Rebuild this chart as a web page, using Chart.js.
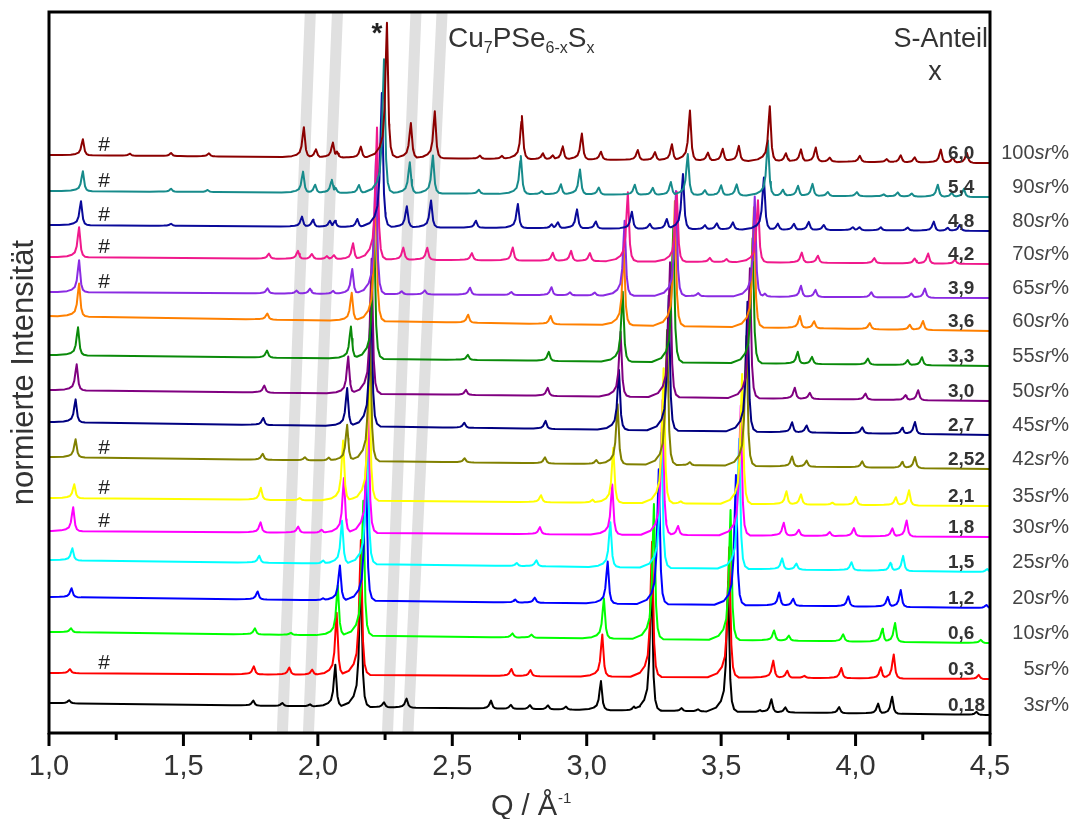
<!DOCTYPE html>
<html><head><meta charset="utf-8">
<script src="https://cdn.jsdelivr.net/npm/chart.js@4.4.1/dist/chart.umd.min.js"></script>
<style>html,body{margin:0;padding:0;background:#fff;}canvas{display:block;}</style>
</head><body>
<canvas id="c" width="1071" height="819"></canvas>
<script>
// ---------------- DATA ----------------
const xTicks = [1.0, 1.5, 2.0, 2.5, 3.0, 3.5, 4.0, 4.5];
const xMinorTicks = [1.25, 1.75, 2.25, 2.75, 3.25, 3.75, 4.25];
// series listed top to bottom
const sulfurX   = ['6,0','5,4','4,8','4,2','3,9','3,6','3,3','3,0','2,7','2,52','2,1','1,8','1,5','1,2','0,6','0,3','0,18'];
const sulfurPct = ['100','90','80','70','65','60','55','50','45','42','35','30','25','20','10','5','3'];
// vertical offset of each pattern at Q = 1.0 and Q = 4.5
const baseLeft  = [578,542,508,476,441,417,378,343,311,276,235,202,173,136,101,60,30];
const baseRight = [570,536,502,469,435,402,367,332,298,264,227,196,161,125,90,54,18];
const hashMarked = ['6,0','5,4','4,8','4,2','3,9','2,52','2,1','1,8','0,3'];
// grey guide bands: Q at bottom and at top of the plot
const bandBottomQ = [1.868, 1.965, 2.259, 2.335];
const bandTopQ    = [1.972, 2.073, 2.365, 2.462];

// peaks [Q, height]
const peaks_6_0 = [[1.126,16],[1.301,2],[1.454,3],[1.595,3],[1.948,30],[1.993,8],[2.056,15],[2.071,6],[2.160,11],[2.257,135],[2.346,35],[2.435,47],[2.603,3],[2.685,3],[2.759,43],[2.837,6],[2.874,4],[2.911,13],[2.982,26],[3.053,8],[3.190,10],[3.254,8],[3.317,16],[3.384,50],[3.451,8],[3.506,12],[3.566,15],[3.681,55],[3.741,8],[3.797,12],[3.852,14],[3.904,4],[4.016,6],[4.116,3],[4.168,7],[4.220,5],[4.317,13],[4.362,5],[4.414,10]];
const peaks_5_4 = [[1.126,20],[1.454,3],[1.590,2],[1.945,21],[1.990,8],[2.052,13],[2.066,5],[2.153,8],[2.246,134],[2.342,31],[2.428,38],[2.599,4],[2.755,38],[2.833,3],[2.904,10],[2.975,25],[3.045,7],[3.179,10],[3.246,7],[3.313,13],[3.376,41],[3.440,5],[3.500,10],[3.558,11],[3.674,55],[3.730,6],[3.786,10],[3.840,12],[3.897,4],[4.005,4],[4.105,2],[4.157,4],[4.209,3],[4.306,12],[4.358,4],[4.403,8]];
const peaks_4_8 = [[1.119,24],[1.454,2],[1.941,10],[1.982,7],[2.045,6],[2.064,6],[2.147,8],[2.238,134],[2.331,21],[2.421,27],[2.588,7],[2.744,24],[2.870,4],[2.893,6],[2.964,19],[3.034,7],[3.168,17],[3.235,5],[3.298,10],[3.358,55],[3.440,4],[3.484,6],[3.544,7],[3.659,52],[3.711,6],[3.771,6],[3.826,8],[3.882,5],[3.990,3],[4.015,3],[4.094,3],[4.194,3],[4.291,9],[4.343,3],[4.388,6]];
const peaks_4_2 = [[1.112,30],[1.818,5],[1.926,8],[1.978,5],[2.034,3],[2.060,4],[2.131,16],[2.220,132],[2.318,12],[2.407,12],[2.573,7],[2.725,13],[2.874,8],[2.942,10],[3.012,8],[3.153,69],[3.335,70],[3.458,4],[3.520,3],[3.637,62],[3.800,10],[3.860,7],[4.070,5],[4.220,5],[4.270,10],[4.370,4]];
const peaks_3_9 = [[1.112,32],[1.813,5],[1.921,3],[1.971,5],[2.057,3],[2.128,25],[2.216,135],[2.312,3],[2.398,4],[2.566,7],[2.720,3],[2.869,8],[2.938,3],[3.030,3],[3.141,75],[3.332,105],[3.415,3],[3.625,100],[3.663,3],[3.797,11],[3.851,7],[4.059,5],[4.208,4],[4.258,9]];
const peaks_3_6 = [[1.112,33],[1.812,6],[2.126,28],[2.215,135],[2.559,8],[2.866,8],[3.138,75],[3.328,125],[3.622,120],[3.793,12],[3.846,7],[4.053,6],[4.202,5],[4.251,9]];
const peaks_3_3 = [[1.108,28],[1.811,7],[2.123,32],[2.209,135],[2.558,5],[2.859,9],[3.134,70],[3.322,135],[3.617,125],[3.785,12],[3.838,7],[4.046,6],[4.194,5],[4.247,8]];
const peaks_3_0 = [[1.103,26],[1.801,7],[2.113,37],[2.200,135],[2.551,5],[2.855,8],[3.126,65],[3.310,135],[3.607,130],[3.774,11],[3.830,6],[4.037,6],[4.186,5],[4.233,10]];
const peaks_2_7 = [[1.099,23],[1.797,7],[2.109,38],[2.198,135],[2.545,5],[2.847,8],[3.120,60],[3.305,135],[3.598,130],[3.764,10],[3.818,7],[4.025,6],[4.174,6],[4.221,12]];
const peaks_2_52 = [[1.099,18],[1.795,6],[1.952,3],[2.041,3],[2.109,36],[2.194,135],[2.546,4],[2.845,6],[3.036,4],[3.115,60],[3.299,135],[3.384,3],[3.594,130],[3.764,10],[3.818,6],[4.025,6],[4.174,6],[4.221,11]];
const peaks_2_1 = [[1.094,14],[1.788,12],[1.933,2],[2.094,60],[2.191,135],[2.830,7],[3.022,3],[3.099,55],[3.286,135],[3.350,2],[3.578,130],[3.743,13],[3.797,10],[3.914,2],[4.001,8],[4.150,8],[4.199,15]];
const peaks_1_8 = [[1.090,24],[1.787,10],[1.927,6],[2.014,3],[2.097,55],[2.187,135],[2.826,7],[3.095,50],[3.282,135],[3.340,9],[3.573,130],[3.733,13],[3.789,6],[3.904,4],[3.994,8],[4.137,8],[4.190,16]];
const peaks_1_5 = [[1.087,12],[1.782,7],[2.020,3],[2.090,43],[2.184,135],[2.740,3],[2.813,6],[3.088,45],[3.278,135],[3.567,130],[3.727,11],[3.780,6],[3.985,8],[4.130,8],[4.177,15],[4.490,3]];
const peaks_1_2 = [[1.084,9],[1.776,8],[2.020,2],[2.082,35],[2.179,135],[2.734,3],[2.807,5],[3.078,42],[3.268,135],[3.555,130],[3.716,13],[3.768,7],[3.973,10],[4.120,10],[4.168,17],[4.487,3]];
const peaks_0_6 = [[1.082,4],[1.766,6],[1.900,2],[2.074,50],[2.169,135],[2.724,4],[2.795,3],[3.064,40],[3.250,135],[3.535,130],[3.697,10],[3.752,5],[3.954,7],[4.100,13],[4.147,19],[4.466,3]];
const peaks_0_3 = [[1.078,4],[1.762,8],[1.894,7],[1.979,5],[2.070,62],[2.160,135],[2.720,7],[2.791,6],[3.058,42],[3.243,135],[3.530,130],[3.694,17],[3.746,7],[3.810,2],[3.947,10],[4.094,11],[4.142,24],[4.458,4]];
const peaks_0_18 = [[1.075,3],[1.760,5],[1.868,3],[1.971,2],[2.065,42],[2.160,135],[2.246,5],[2.330,9],[2.644,8],[2.718,4],[2.789,4],[2.856,4],[2.923,3],[3.053,29],[3.176,4],[3.241,135],[3.353,3],[3.414,2],[3.526,130],[3.645,2],[3.687,13],[3.739,5],[3.939,6],[4.084,10],[4.136,17],[4.450,3]];
const peakSets = [peaks_6_0,peaks_5_4,peaks_4_8,peaks_4_2,peaks_3_9,peaks_3_6,peaks_3_3,peaks_3_0,peaks_2_7,peaks_2_52,peaks_2_1,peaks_1_8,peaks_1_5,peaks_1_2,peaks_0_6,peaks_0_3,peaks_0_18];

// ---------------- STYLE ----------------
const seriesColors = ['#8b0000','#178b8b','#0a0a9a','#f0198c','#8a2be2','#ff8000','#0a8a0a','#800080','#000080','#808000','#ffff00','#ff00ff','#00ffff','#0000ff','#00ff00','#ff0000','#000000'];
const FONT = '"Liberation Sans", Arial, Helvetica, sans-serif';
// line shape of one reflection (offset in Q, fraction of height)
const PEAK_DQ = [-0.08,-0.045,-0.027,-0.016,-0.009,-0.0045,0,0.004,0.008,0.014,0.022,0.035];
const PEAK_F  = [0,0.03,0.08,0.16,0.36,0.7,1,0.62,0.25,0.08,0.02,0];

function profile(d){
  const n = PEAK_DQ.length;
  if (d <= PEAK_DQ[0] || d >= PEAK_DQ[n-1]) return 0;
  for (let k = 1; k < n; k++) {
    if (d <= PEAK_DQ[k]) {
      const t = (d - PEAK_DQ[k-1]) / (PEAK_DQ[k] - PEAK_DQ[k-1]);
      return PEAK_F[k-1] + t * (PEAK_F[k] - PEAK_F[k-1]);
    }
  }
  return 0;
}
function baseAt(i, q){ return baseLeft[i] + (baseRight[i] - baseLeft[i]) * (q - 1) / 3.5; }
function buildSeries(i){
  const peaks = peakSets[i];
  const xs = new Set([1.0, 4.5]);
  peaks.forEach(([q]) => PEAK_DQ.forEach(d => { const v = +(q + d).toFixed(4); if (v >= 1 && v <= 4.5) xs.add(v); }));
  return [...xs].sort((a,b) => a - b).map(xv => {
    let m = 0;
    peaks.forEach(([q,h]) => { const f = h * profile(xv - q); if (f > m) m = f; });
    return {x: xv, y: baseAt(i, xv) + m};
  });
}

const datasets = [];
bandBottomQ.forEach((qb, k) => {
  datasets.push({data: [{x: qb, y: 0}, {x: bandTopQ[k], y: 721}], borderColor: '#e0e0e0', borderWidth: 11,
    pointRadius: 0, order: 100, borderCapStyle: 'butt'});
});
sulfurX.forEach((lab, i) => {
  datasets.push({label: lab, data: buildSeries(i), borderColor: seriesColors[i], borderWidth: 2,
    pointRadius: 0, tension: 0, order: i, borderJoinStyle: 'round'});
});

const annot = {
  id: 'annot',
  afterDatasetsDraw(chart){
    const {ctx, chartArea: ca, scales: {x, y}} = chart;
    ctx.save();
    ctx.strokeStyle = '#000'; ctx.lineWidth = 3;
    ctx.strokeRect(ca.left, ca.top, ca.right - ca.left, ca.bottom - ca.top);
    xTicks.forEach(v => { const p = x.getPixelForValue(v); ctx.beginPath(); ctx.moveTo(p, ca.bottom); ctx.lineTo(p, ca.bottom + 13); ctx.stroke(); });
    xMinorTicks.forEach(v => { const p = x.getPixelForValue(v); ctx.beginPath(); ctx.moveTo(p, ca.bottom); ctx.lineTo(p, ca.bottom + 7); ctx.stroke(); });

    ctx.textBaseline = 'alphabetic';
    // right-hand labels
    sulfurX.forEach((lab, i) => {
      const yb = y.getPixelForValue(baseRight[i]) - 4;
      ctx.fillStyle = '#333'; ctx.textAlign = 'left';
      ctx.font = 'bold 19px ' + FONT;
      ctx.fillText(lab, ca.right - 42, yb);
      const num = sulfurPct[i];
      ctx.font = '20px ' + FONT; const w1 = ctx.measureText(num).width, w3 = ctx.measureText('%').width;
      ctx.font = 'italic 20px ' + FONT; const w2 = ctx.measureText('sr').width;
      let xs = chart.width - 2 - (w1 + w2 + w3);
      ctx.fillStyle = '#444';
      ctx.font = '20px ' + FONT; ctx.fillText(num, xs, yb);
      ctx.font = 'italic 20px ' + FONT; ctx.fillText('sr', xs + w1, yb);
      ctx.font = '20px ' + FONT; ctx.fillText('%', xs + w1 + w2, yb);
      if (hashMarked.includes(lab)) {
        ctx.fillStyle = '#222'; ctx.textAlign = 'center'; ctx.font = '21px ' + FONT;
        ctx.fillText('#', x.getPixelForValue(1.205), y.getPixelForValue(baseAt(i, 1.2)) - 4);
      }
    });
    // asterisk
    ctx.fillStyle = '#222'; ctx.textAlign = 'center'; ctx.font = 'bold 28px ' + FONT;
    ctx.fillText('*', x.getPixelForValue(2.22), 42);
    // formula
    ctx.fillStyle = '#333'; ctx.textAlign = 'left';
    let tx = 448;
    const parts = [['Cu',28,0],['7',16,6],['PSe',28,0],['6-x',16,6],['S',28,0],['x',16,6]];
    parts.forEach(([t, s, dy]) => { ctx.font = s + 'px ' + FONT; ctx.fillText(t, tx, 47 + dy); tx += ctx.measureText(t).width; });
    ctx.font = '27px ' + FONT; ctx.textAlign = 'right'; ctx.fillText('S-Anteil', ca.right - 2, 47);
    ctx.textAlign = 'center'; ctx.fillText('x', 935, 80);
    // x axis title
    ctx.textAlign = 'left'; ctx.font = '29px ' + FONT;
    ctx.fillText('Q / Å', 491, 815);
    const wq = ctx.measureText('Q / Å').width;
    ctx.font = '15px ' + FONT; ctx.fillText('-1', 491 + wq + 1, 803);
    // y axis title
    ctx.save(); ctx.translate(33, (ca.top + ca.bottom) / 2); ctx.rotate(-Math.PI / 2);
    ctx.textAlign = 'center'; ctx.font = '31px ' + FONT; ctx.fillStyle = '#333';
    ctx.fillText('normierte Intensität', 0, 0); ctx.restore();
    ctx.restore();
  }
};

Chart.defaults.font.family = FONT;
new Chart(document.getElementById('c'), {
  type: 'line',
  data: {datasets},
  options: {
    responsive: false, animation: false, devicePixelRatio: 1,
    layout: {padding: {left: 49, right: 81, top: 12, bottom: 36}},
    plugins: {legend: {display: false}, tooltip: {enabled: false}},
    scales: {
      x: {type: 'linear', min: 1, max: 4.5,
          afterBuildTicks: s => { s.ticks = xTicks.map(v => ({value: v})); },
          afterFit: s => { s.height = 50; },
          ticks: {font: {size: 29}, color: '#333', padding: 17, maxRotation: 0, autoSkip: false,
                  callback: v => v.toFixed(1).replace('.', ',')},
          grid: {display: false, drawTicks: false}, border: {display: false}},
      y: {display: false, min: 0, max: 721}
    }
  },
  plugins: [annot]
});
</script>
</body></html>
